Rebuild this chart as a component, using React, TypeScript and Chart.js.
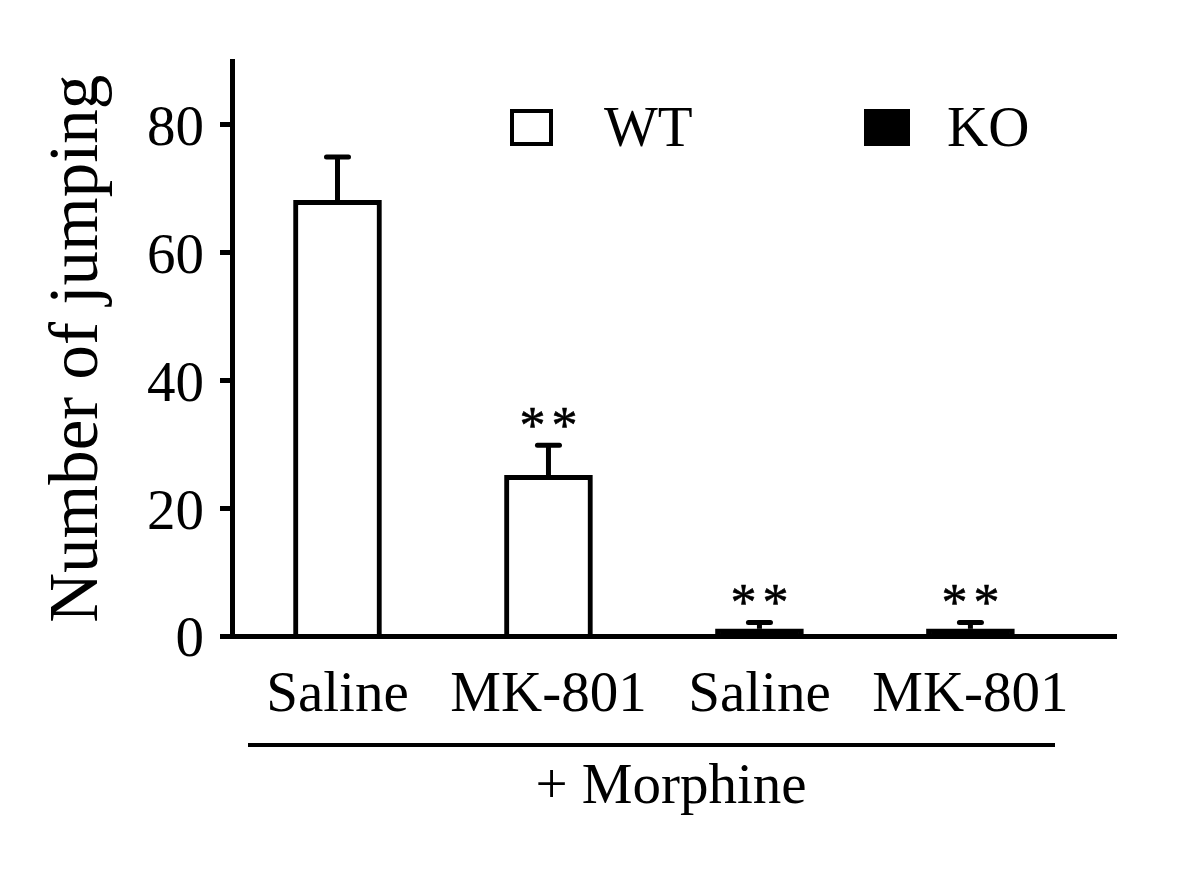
import React, { useEffect, useRef } from "react";
import { Chart, registerables } from "chart.js";

Chart.register(...registerables);

const categories = ["Saline", "MK-801", "Saline", "MK-801"];
const categoryPositions = [0, 1, 2, 3];
const wtX = [0, 1];
const wtValues = [68.2, 25.2];
const wtErrors = [6.8, 4.7];
const koX = [2, 3];
const koValues = [1.2, 1.2];
const koErrors = [1.0, 1.0];
const significance = ["", "**", "**", "**"];
const yTicks = [0, 20, 40, 60, 80];
const groupLabel = "+ Morphine";
const yTitle = "Number of jumping";

const FONT = "'Liberation Serif', 'Times New Roman', serif";

const errorBarPlugin = {
  id: "errorBars",
  afterDatasetsDraw(chart: any) {
    const ctx = chart.ctx;
    const yScale = chart.scales.y;
    ctx.save();
    chart.data.datasets.forEach((ds: any, di: number) => {
      const meta = chart.getDatasetMeta(di);
      meta.data.forEach((el: any, i: number) => {
        const v = ds.data[i].y;
        const err = ds.errors[i];
        const top = yScale.getPixelForValue(v + err);
        ctx.strokeStyle = "#000";
        ctx.lineWidth = 5;
        ctx.lineCap = "butt";
        ctx.beginPath();
        ctx.moveTo(el.x, el.y);
        ctx.lineTo(el.x, top);
        ctx.stroke();
        ctx.lineCap = "round";
        ctx.beginPath();
        ctx.moveTo(el.x - 11, top);
        ctx.lineTo(el.x + 11, top);
        ctx.stroke();
        const sig = significance[ds.data[i].x];
        if (sig) {
          ctx.fillStyle = "#000";
          ctx.strokeStyle = "#000";
          ctx.lineWidth = 0.6;
          ctx.font = `52px ${FONT}`;
          (ctx as any).letterSpacing = "6px";
          ctx.textAlign = "center";
          ctx.textBaseline = "alphabetic";
          ctx.fillText(sig, el.x + 3, top - 2);
          ctx.strokeText(sig, el.x + 3, top - 2);
          (ctx as any).letterSpacing = "0px";
        }
      });
    });
    ctx.restore();
  },
};

const decorPlugin = {
  id: "decor",
  afterDraw(chart: any) {
    const ctx = chart.ctx;
    ctx.save();
    // legend
    ctx.lineWidth = 4;
    ctx.strokeStyle = "#000";
    ctx.fillStyle = "#fff";
    ctx.fillRect(512, 111, 39, 33);
    ctx.strokeRect(512, 111, 39, 33);
    ctx.fillStyle = "#000";
    ctx.fillRect(864, 109, 46, 37);
    ctx.font = `57px ${FONT}`;
    ctx.textAlign = "left";
    ctx.textBaseline = "alphabetic";
    ctx.fillText("WT", 604, 146);
    ctx.fillText("KO", 947, 146);
    // group line and label
    ctx.beginPath();
    ctx.lineWidth = 4;
    ctx.moveTo(248, 745);
    ctx.lineTo(1055, 745);
    ctx.stroke();
    ctx.textAlign = "center";
    ctx.fillText(groupLabel, 671, 803);
    ctx.restore();
  },
};

export default function App() {
  const ref = useRef<HTMLCanvasElement>(null);
  useEffect(() => {
    if (!ref.current) return;
    const chart = new Chart(ref.current, {
      type: "bar",
      data: {
        datasets: [
          {
            label: "WT",
            data: wtX.map((x, i) => ({ x, y: wtValues[i] })),
            errors: wtErrors,
            backgroundColor: "#fff",
            borderColor: "#000",
            borderWidth: 5,
            barThickness: 88,
            grouped: false,
          } as any,
          {
            label: "KO",
            data: koX.map((x, i) => ({ x, y: koValues[i] })),
            errors: koErrors,
            backgroundColor: "#000",
            borderColor: "#000",
            borderWidth: 5,
            barThickness: 88,
            grouped: false,
          } as any,
        ],
      },
      options: {
        animation: false,
        responsive: false,
        devicePixelRatio: 1,
        layout: { padding: { top: 61, right: 84, bottom: 0, left: 0 } },
        plugins: { legend: { display: false }, tooltip: { enabled: false } },
        scales: {
          x: {
            type: "linear",
            min: -0.5,
            max: 3.69,
            offset: false,
            z: 1,
            grid: { display: false, drawTicks: false, offset: false },
            border: { display: true, color: "#000", width: 5 },
            afterBuildTicks: (scale: any) => {
              scale.ticks = categoryPositions.map((v) => ({ value: v }));
            },
            afterFit: (scale: any) => {
              scale.height = 250.5;
            },
            ticks: {
              autoSkip: false,
              maxRotation: 0,
              padding: 25,
              color: "#000",
              font: { family: FONT, size: 57 },
              callback: (v: any) => categories[v] ?? "",
            },
          },
          y: {
            min: 0,
            max: 90,
            z: 1,
            grid: {
              display: true,
              drawOnChartArea: false,
              drawTicks: true,
              tickLength: 12,
              tickWidth: 5,
              tickColor: "#000",
              lineWidth: 5,
              color: "#000",
            },
            border: { display: true, color: "#000", width: 5 },
            afterBuildTicks: (scale: any) => {
              scale.ticks = yTicks.map((v) => ({ value: v }));
            },
            afterFit: (scale: any) => {
              scale.width = 232;
            },
            ticks: {
              padding: 16,
              labelOffset: 5,
              color: "#000",
              font: { family: FONT, size: 57 },
            },
            title: {
              display: true,
              text: yTitle,
              color: "#000",
              font: { family: FONT, size: 69 },
              padding: { top: 37, bottom: 0 },
            },
          },
        },
      },
      plugins: [errorBarPlugin, decorPlugin],
    } as any);
    return () => chart.destroy();
  }, []);
  return (
    <div style={{ position: "fixed", left: 0, top: 0, width: 1200, height: 887, background: "#fff" }}>
      <canvas ref={ref} width={1200} height={887} style={{ width: 1200, height: 887, display: "block" }} />
    </div>
  );
}
